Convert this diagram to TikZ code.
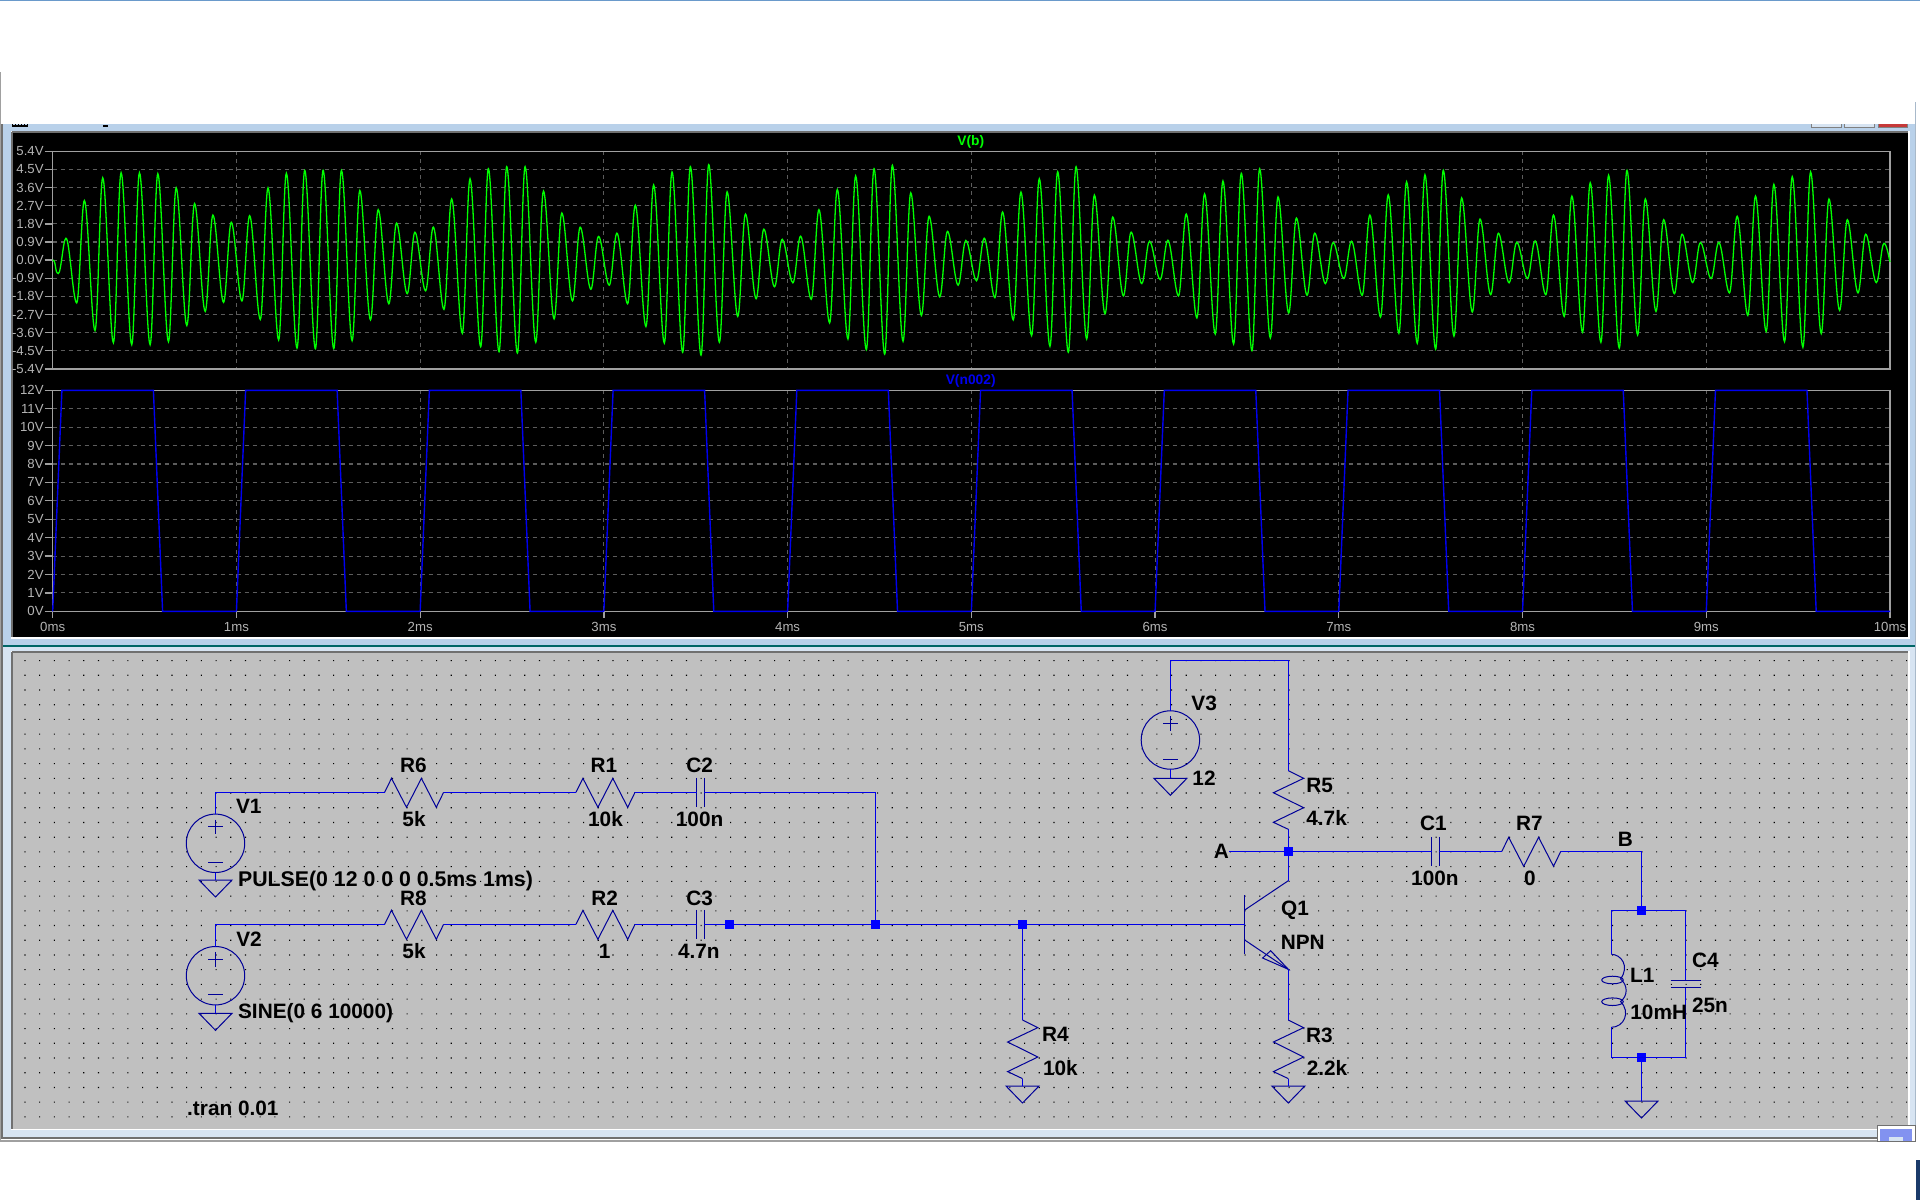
\documentclass[tikz,border=0pt]{standalone}
\usepackage{fontspec}
\setmainfont{Liberation Sans}
\definecolor{barc}{HTML}{B9D1EA}
\definecolor{palec}{HTML}{D7E4F2}
\definecolor{schc}{HTML}{C0C0C0}
\definecolor{wirec}{HTML}{0000E8}
\definecolor{symc}{HTML}{000098}
\definecolor{framec}{HTML}{A0A0A0}
\definecolor{gridc}{HTML}{5C5C5C}
\definecolor{edgec}{HTML}{707070}
\definecolor{axc}{HTML}{B4B4B4}
\definecolor{traceg}{HTML}{00FF00}
\definecolor{traceb}{HTML}{0000F0}
\definecolor{topc}{HTML}{6A9ACB}
\definecolor{cornc}{HTML}{1A3A6A}
\tikzset{
	wire/.style={wirec,line width=0.65pt},
	sym/.style={symc,line width=0.5pt},
	jct/.style={rectangle,fill=blue,minimum width=4.4pt,minimum height=4.2pt,inner sep=0pt},
	lbl/.style={font=\fontsize{10.4}{12}\selectfont\bfseries,text=black,inner sep=0pt},
	axl/.style={font=\fontsize{6.6}{8}\selectfont,text=axc,inner sep=0pt},
	grd/.style={gridc,line width=0.55pt,dash pattern=on 2pt off 2pt},
	frm/.style={framec,line width=0.65pt},
	pics/resh/.style={code={
		\draw[sym] (0,0)--(6.9,-14)--(21.9,15)--(36.8,-14)--(51.7,15)--(59,0);
		\coordinate (-a) at (0,0); \coordinate (-b) at (59,0);}},
	pics/resv/.style={code={
		\draw[sym] (0,0)--(15.3,7.6)--(-14.9,22)--(15.3,37)--(-14.9,51.6)--(0,58.6);
		\coordinate (-a) at (0,0); \coordinate (-b) at (0,58.6);}},
	pics/caph/.style={code={
		\draw[sym] (-3.7,-14.5)--(-3.7,14.5) (3.7,-14.5)--(3.7,14.5);
		\coordinate (-a) at (-3.7,0); \coordinate (-b) at (3.7,0);}},
	pics/capv/.style={code={
		\draw[sym] (-15,-3.7)--(15,-3.7) (-15,3.7)--(15,3.7);
		\coordinate (-a) at (0,-3.7); \coordinate (-b) at (0,3.7);}},
	pics/gnd/.style={code={
		\draw[sym] (-16.5,0)--(16.5,0)--(0,17)--cycle;
		\coordinate (-a) at (0,0);}},
	pics/vsrc/.style={code={
		\draw[sym] (0,0) circle (29.2);
		\draw[sym] (-7.3,-16.5)--(7.3,-16.5) (0,-23.8)--(0,-9.2) (-7.3,19)--(7.3,19);
		\coordinate (-p) at (0,-29.2); \coordinate (-n) at (0,29.2);}},
}
\begin{document}
\begin{tikzpicture}[x=0.5pt,y=-0.5pt]
	\useasboundingbox (0,0) rectangle (1920,1200);
	\fill[white] (0,0) rectangle (1920,1200);
	% window frame
	\fill[barc] (3,124) rectangle (1915,646);
	\fill[palec] (3,646) rectangle (1915,1138);
	\fill[white] (10.5,131) rectangle (1909.5,638.5);
	\fill[white] (10.5,651) rectangle (1909.5,1130);
	\fill[black] (11.5,132) rectangle (1908,637);
	\fill[schc] (11.5,652) rectangle (1908,1128.5);
	\draw[edgec,line width=1pt] (11.5,132)--(1908,132) (11.5,132)--(11.5,637);
	\draw[edgec,line width=1pt] (11.5,652)--(1908,652) (11.5,652)--(11.5,1128.5);
	\draw[teal!80!black,line width=0.6pt] (3,646)--(1915,646);
	\draw[edgec,line width=1pt] (2,124)--(2,1138)--(1915,1138);
	\draw[framec,line width=0.6pt] (0.5,72)--(0.5,1141)--(1915,1141);
	\draw[barc!70!gray,line width=0.8pt] (1915.5,102)--(1915.5,1125);
	\draw[topc,line width=0.8pt] (0,0.5)--(1920,0.5);
	% bits of the hidden title bar
	\draw[black,line width=1pt] (12,126)--(28,126) (103,125.5)--(108,125.5);
	\foreach \x in {12,15,...,27} {\draw[black,line width=0.5pt] (\x,124)--(\x,126);}
	\filldraw[fill=palec,draw=gray,line width=0.5pt] (1811,122)--(1811,127.5)--(1841,127.5)--(1841,122);
	\filldraw[fill=palec,draw=gray,line width=0.5pt] (1844,122)--(1844,127.5)--(1874,127.5)--(1874,122);
	\filldraw[fill=red!55!gray,draw=gray,line width=0.5pt] (1878,122)--(1878,127.5)--(1907,127.5)--(1907,122);
	\fill[white] (0,1142) rectangle (1920,1200);
	\fill[white] (1.5,2) rectangle (1915,124);
	\filldraw[fill=white,draw=edgec,line width=0.5pt] (1877,1125) rectangle (1915.5,1141);
	\fill[blue!30!barc] (1880,1129) rectangle (1912,1141);
	\fill[palec] (1889,1137) rectangle (1903,1141);
	\fill[cornc] (1915.5,1160) rectangle (1920,1200);
	% top plot
	\foreach \lab [count=\i from 0] in {5.4V,4.5V,3.6V,2.7V,1.8V,0.9V,0.0V,-0.9V,-1.8V,-2.7V,-3.6V,-4.5V,-5.4V} {
		\draw[frm] (44.5,151.3+18.14*\i)--(52.7,151.3+18.14*\i);
		\node[axl,anchor=east] (ya\i) at (44,151.3+18.14*\i) {\lab};
		\draw[grd] (52.7,151.3+18.14*\i)--(1890,151.3+18.14*\i);
	}
	\foreach \k in {1,...,9} {\draw[grd] (52.7+183.73*\k,151.3)--(52.7+183.73*\k,369);}
	\draw[frm] (52.7,151.3) rectangle (1890,369);
	\node[font=\fontsize{6.9}{8}\selectfont\bfseries,text=traceg,inner sep=0pt] (tb) at (970.7,141.7) {V(b)};
	% V(b) trace, trough/peak pairs
	\draw[traceg,line width=0.65pt] (52.7,260)
	\foreach \lo/\hi [count=\j from 0] in {
		-.67/1.08,-2.13/2.95,-3.5/4.08,-4.1/4.33,-4.2/4.33,-4.2/4.28,-4.05/3.58,-3.25/2.8,-2.55/2.23,-2.1/1.87,
		-2.03/2.2,-2.95/3.58,-3.97/4.3,-4.37/4.45,-4.4/4.45,-4.4/4.45,-4.0/3.45,-2.97/2.5,-2.17/1.83,-1.67/1.38,
		-1.53/1.63,-2.45/3.03,-3.63/4.03,-4.3/4.53,-4.55/4.63,-4.62/4.63,-4.08/3.42,-2.92/2.33,-2.03/1.63,-1.45/1.17,
		-1.25/1.33,-2.17/2.72,-3.3/3.72,-4.12/4.37,-4.58/4.63,-4.72/4.73,-4.08/3.38,-2.8/2.28,-1.92/1.53,-1.33/1.03,
		-1.13/1.18,-1.95/2.5,-3.12/3.5,-3.92/4.17,-4.45/4.53,-4.67/4.7,-4.03/3.33,-2.75/2.17,-1.83/1.42,-1.25/.97,
		-1.03/1.08,-1.87/2.38,-2.97/3.37,-3.75/4.03,-4.28/4.38,-4.58/4.63,-3.92/3.22,-2.67/2.13,-1.78/1.38,-1.17/.93,
		-.97/.98,-1.78/2.28,-2.87/3.28,-3.67/3.92,-4.17/4.3,-4.5/4.53,-3.87/3.13,-2.63/2.08,-1.75/1.33,-1.17/.87,
		-.92/.93,-1.75/2.23,-2.83/3.23,-3.63/3.88,-4.13/4.23,-4.42/4.45,-3.78/3.08,-2.58/2.03,-1.72/1.33,-1.13/.88,
		-.92/.95,-1.72/2.23,-2.8/3.17,-3.58/3.83,-4.08/4.2,-4.37/4.45,-3.72/3.03,-2.55/2,-1.67/1.28,-1.12/.87,
		-.92/.87,-1.63/2.17,-2.75/3.17,-3.55/3.75,-4.05/4.13,-4.33/4.37,-3.65/3.03,-2.5/2,-1.63/1.28,-1.12/.83} {
		.. controls +(3.5,0) and +(-3.5,0) .. ({58.3+18.364*\j},{260-20.16*\lo})
		.. controls +(2.8,0) and +(-2.8,0) .. ({66+18.364*\j},{260-20.16*\hi})
	} .. controls +(2.5,0) and +(-1,-4) .. (1890,262);
	% bottom plot
	\foreach \lab [count=\i from 0] in {12V,11V,10V,9V,8V,7V,6V,5V,4V,3V,2V,1V,0V} {
		\draw[frm] (44.5,390.3+18.42*\i)--(52.7,390.3+18.42*\i);
		\node[axl,anchor=east] (yb\i) at (44,390.3+18.42*\i) {\lab};
		\draw[grd] (52.7,390.3+18.42*\i)--(1890,390.3+18.42*\i);
	}
	\foreach \k [count=\i from 0] in {0ms,1ms,2ms,3ms,4ms,5ms,6ms,7ms,8ms,9ms,10ms} {
		\draw[frm] (52.7+183.73*\i,611.3)--(52.7+183.73*\i,618);
		\node[axl] (xa\i) at (52.7+183.73*\i,627) {\k};
	}
	\foreach \k in {1,...,9} {\draw[grd] (52.7+183.73*\k,390.3)--(52.7+183.73*\k,611.3);}
	\draw[frm] (52.7,390.3) rectangle (1890,611.3);
	\node[font=\fontsize{6.9}{8}\selectfont\bfseries,text=traceb,inner sep=0pt] (tn) at (970.7,380.7) {V(n002)};
	\foreach \k in {0,...,9} {
		\draw[traceb,line width=0.7pt] (52.7+183.73*\k,611.3)--(52.7+183.73*\k+9.2,390.3)--(52.7+183.73*\k+100.7,390.3)--(52.7+183.73*\k+109.9,611.3)--(52.7+183.73*\k+183.73,611.3);
	}
	% sheet dots
	\fill[black] \foreach \i in {0,...,128} {\foreach \j in {0,...,31} {
		({24.4+14.7*\i},{660+14.72*\j}) rectangle +(1.1,1.1)}};
	% sources
	\pic (V1) at (215.5,843.3) {vsrc};
	\pic (V2) at (215.5,975.7) {vsrc};
	\pic (V3) at (1170.4,740) {vsrc};
	\pic (G1) at (215.5,880) {gnd};
	\pic (G2) at (215.5,1013.3) {gnd};
	\pic (G3) at (1170.4,778.3) {gnd};
	% input parts
	\pic (R6) at (384.6,792.3) {resh};
	\pic (R1) at (576,792.3) {resh};
	\pic (C2) at (700.5,792.3) {caph};
	\pic (R8) at (384.6,924.3) {resh};
	\pic (R2) at (576,924.3) {resh};
	\pic (C3) at (700.5,924.3) {caph};
	\pic (R4) at (1022.5,1020) {resv};
	\pic (G4) at (1022.5,1086) {gnd};
	% output parts
	\pic (R5) at (1288.3,770.7) {resv};
	\pic (R3) at (1288.3,1020) {resv};
	\pic (G5) at (1288.3,1086) {gnd};
	\pic (C1) at (1435.5,851.3) {caph};
	\pic (R7) at (1501.8,851.3) {resh};
	\pic (C4) at (1685.7,984) {capv};
	\pic (G6) at (1641.5,1101) {gnd};
	% Q1
	\coordinate (Qb) at (1244.7,924.3);
	\coordinate (Qc) at (1288.3,880.7);
	\coordinate (Qe) at (1288.3,969.3);
	\draw[sym] (1244.7,895)--(1244.7,954.3);
	\draw[sym] (1244.7,910)--(Qc);
	\draw[sym] (1244.7,940)--(Qe);
	\draw[sym] (1262.6,958)--(1270.7,950.7)--(Qe)--cycle;
	% L1
	\coordinate (Lt) at (1611.3,954.3);
	\coordinate (Lb) at (1611.3,1027.3);
	\draw[sym] (Lt) .. controls (1621,954.3) and (1630,966) .. (1620.5,979)
		.. controls (1628,985) and (1628,996) .. (1620.5,1001.5)
		.. controls (1631,1012) and (1624,1027.3) .. (Lb);
	\draw[sym] (1612.5,980) ellipse (10.8 and 3.8);
	\draw[sym] (1612.5,1001.7) ellipse (10.8 and 3.8);
	% junctions
	\node[jct] (n1) at (729.5,924.3) {};
	\node[jct] (n2) at (875.5,924.3) {};
	\node[jct] (n3) at (1022.5,924.3) {};
	\node[jct] (n4) at (1288.3,851.3) {};
	\node[jct] (n5) at (1641.5,910.3) {};
	\node[jct] (n6) at (1641.5,1057.3) {};
	\coordinate (Aw) at (1229.4,851.3);
	\coordinate (Bw) at (1641.5,851.3);
	\coordinate (Tl) at (1170.4,660.3);
	\coordinate (Tr) at (1288.3,660.3);
	% wires
	\draw[wire] (V1-p) |- (R6-a);
	\draw[wire] (R6-b) -- (R1-a);
	\draw[wire] (R1-b) -- (C2-a);
	\draw[wire] (C2-b) -| (n2);
	\draw[wire] (V2-p) |- (R8-a);
	\draw[wire] (R8-b) -- (R2-a);
	\draw[wire] (R2-b) -- (C3-a);
	\draw[wire] (C3-b) -- (n1) -- (n2) -- (n3) -- (Qb);
	\draw[wire] (n3) -- (R4-a);
	\draw[wire] (V1-n) -- (G1-a);
	\draw[wire] (V2-n) -- (G2-a);
	\draw[wire] (V3-n) -- (G3-a);
	\draw[wire] (R4-b) -- (G4-a);
	\draw[wire] (V3-p) -- (Tl) -- (Tr) -- (R5-a);
	\draw[wire] (R5-b) -- (n4) -- (Qc);
	\draw[wire] (Qe) -- (R3-a);
	\draw[wire] (R3-b) -- (G5-a);
	\draw[wire] (Aw) -- (n4) -- (C1-a);
	\draw[wire] (C1-b) -- (R7-a);
	\draw[wire] (R7-b) -- (Bw) -- (n5);
	\draw[wire] (1611.3,910.3) -- (1685.7,910.3);
	\draw[wire] (Lt) -- (1611.3,910.3);
	\draw[wire] (Lb) -- (1611.3,1057.3) -- (1685.7,1057.3) -- (C4-b);
	\draw[wire] (1685.7,910.3) -- (C4-a);
	\draw[wire] (n6) -- (G6-a);
	% labels
	\node[lbl] (lV1) at (248.8,806.7) {V1};
	\node[lbl,anchor=west,font=\fontsize{10.65}{12}\selectfont\bfseries] (lP) at (237.7,880.8) {PULSE(0 12 0 0 0 0.5ms 1ms)};
	\node[lbl] (lV2) at (249,939) {V2};
	\node[lbl,anchor=west] (lS) at (237.7,1013.5) {SINE(0 6 10000)};
	\node[lbl,anchor=west] (lT) at (186.8,1108.3) {.tran 0.01};
	\node[lbl] (lR6) at (413.3,765.7) {R6};
	\node[lbl] (vR6) at (414,819.3) {5k};
	\node[lbl] (lR1) at (604,765.7) {R1};
	\node[lbl] (vR1) at (605.5,819.3) {10k};
	\node[lbl] (lC2) at (699.6,765.7) {C2};
	\node[lbl] (vC2) at (699.6,819.3) {100n};
	\node[lbl] (lR8) at (413.3,898.3) {R8};
	\node[lbl] (vR8) at (414,951) {5k};
	\node[lbl] (lR2) at (604.7,898.3) {R2};
	\node[lbl] (vR2) at (604.7,951) {1};
	\node[lbl] (lC3) at (699.6,898.3) {C3};
	\node[lbl] (vC3) at (698.8,951) {4.7n};
	\node[lbl] (lR4) at (1055.5,1034.7) {R4};
	\node[lbl] (vR4) at (1060.4,1067.8) {10k};
	\node[lbl] (lV3) at (1204.1,703.3) {V3};
	\node[lbl] (vV3) at (1204,778) {12};
	\node[lbl] (lR5) at (1319.7,785) {R5};
	\node[lbl] (vR5) at (1326.6,818.3) {4.7k};
	\node[lbl] (lA) at (1221.3,851) {A};
	\node[lbl] (lQ1) at (1295,910) {Q1};
	\node[lbl] (vQ1) at (1302.7,942.7) {NPN};
	\node[lbl] (lR3) at (1319.3,1035) {R3};
	\node[lbl] (vR3) at (1327,1068.3) {2.2k};
	\node[lbl] (lC1) at (1433.5,823.7) {C1};
	\node[lbl] (vC1) at (1434.9,878) {100n};
	\node[lbl] (lR7) at (1529.4,823.7) {R7};
	\node[lbl] (vR7) at (1529.8,878) {0};
	\node[lbl] (lB) at (1625.4,839) {B};
	\node[lbl] (lL1) at (1642.3,975.7) {L1};
	\node[lbl] (vL1) at (1658.7,1012.7) {10mH};
	\node[lbl] (lC4) at (1705.3,960.7) {C4};
	\node[lbl] (vC4) at (1710,1005) {25n};
\end{tikzpicture}
\end{document}
